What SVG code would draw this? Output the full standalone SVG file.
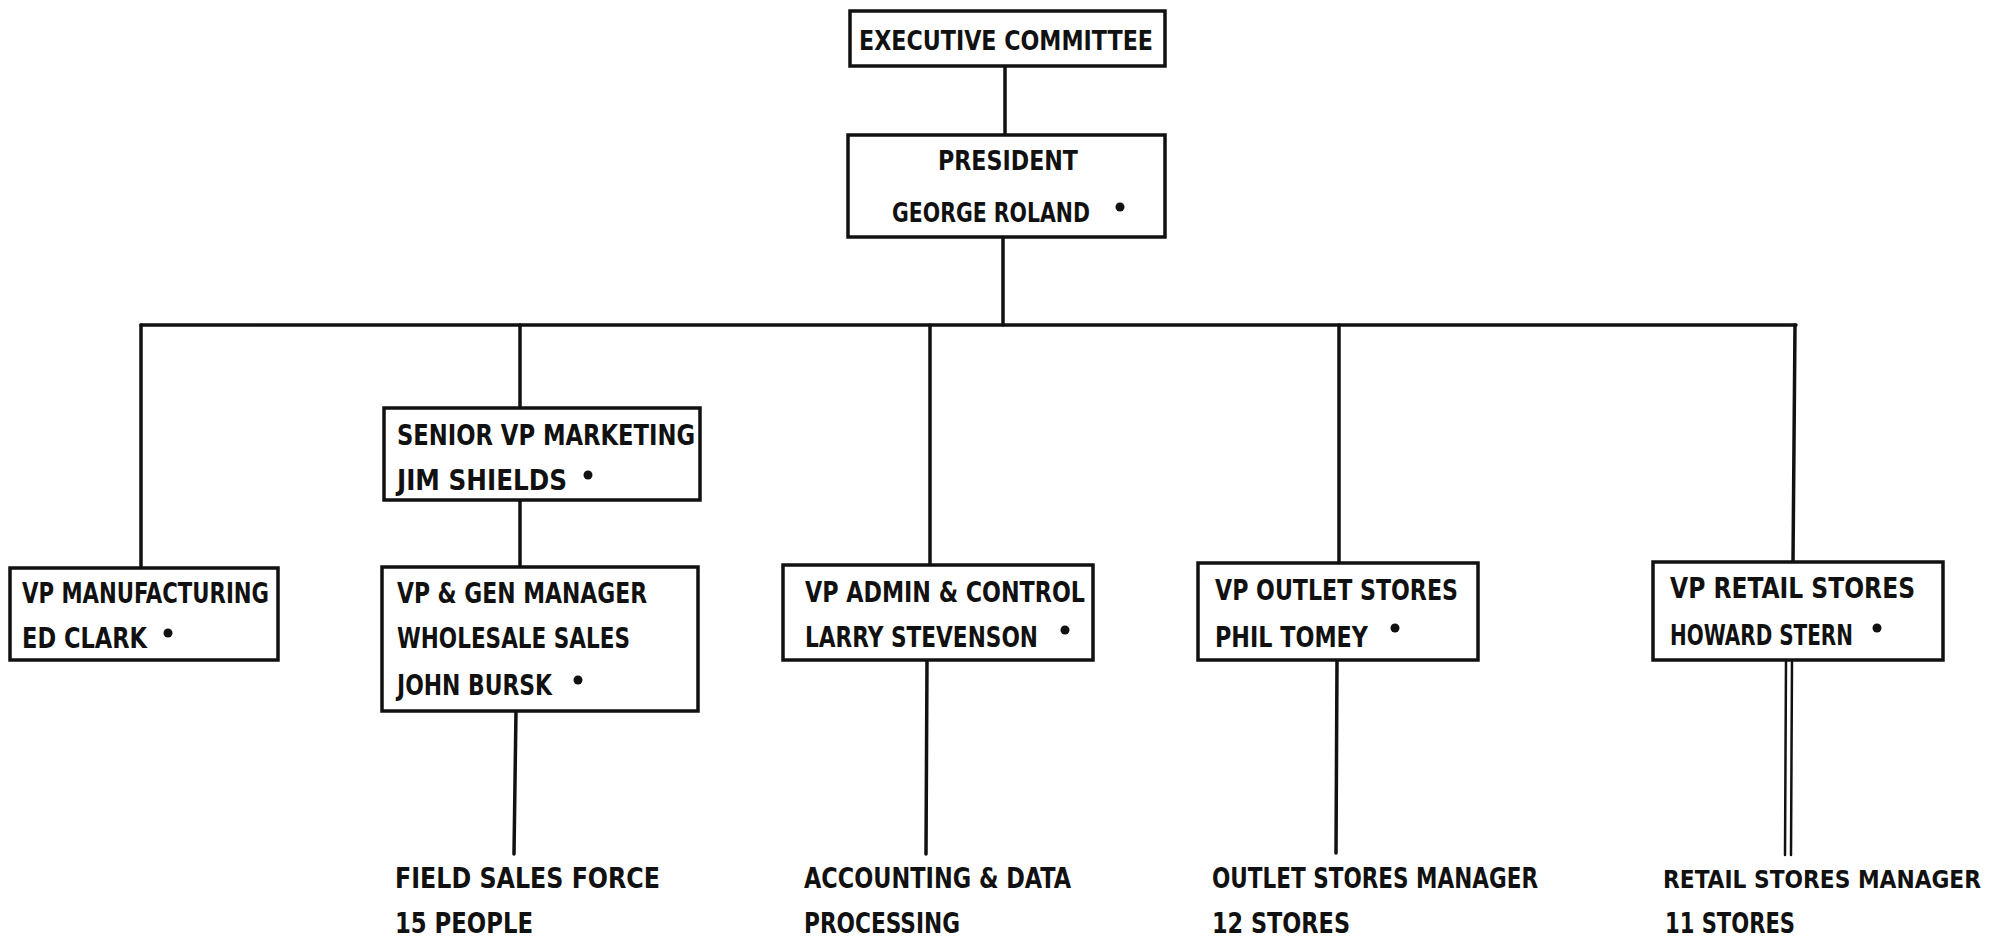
<svg xmlns="http://www.w3.org/2000/svg" width="1996" height="939" viewBox="0 0 1996 939">
<style>
.box{fill:#fff;stroke:#111;stroke-width:3.5}
.c{stroke:#111;stroke-width:3.5;fill:none;stroke-linecap:round}
.t{font-family:"DejaVu Sans Condensed","Liberation Sans Narrow","Liberation Sans",sans-serif;font-weight:bold;font-size:28px;fill:#111}
.s{font-size:26px}
.d{fill:#111}
</style>
<rect width="1996" height="939" fill="#fff"/>
<g id="connectors">
<line class="c" x1="1005" y1="66" x2="1005" y2="135"/>
<line class="c" x1="1003" y1="237" x2="1003" y2="325"/>
<line class="c" x1="141" y1="325" x2="1796" y2="325"/>
<line class="c" x1="141" y1="325" x2="141" y2="568"/>
<line class="c" x1="520" y1="325" x2="520" y2="408"/>
<line class="c" x1="930" y1="325" x2="930" y2="565"/>
<line class="c" x1="1339" y1="325" x2="1339" y2="563"/>
<line class="c" x1="1795" y1="325" x2="1793" y2="562"/>
<line class="c" x1="520" y1="500" x2="520" y2="567"/>
<line class="c" x1="516" y1="711" x2="514" y2="854"/>
<line class="c" x1="927" y1="660" x2="926" y2="854"/>
<line class="c" x1="1337" y1="660" x2="1336" y2="853"/>
<line class="c" x1="1786" y1="660" x2="1785" y2="855" style="stroke-width:2.5"/>
<line class="c" x1="1792" y1="660" x2="1791" y2="855" style="stroke-width:2.5"/>
</g>
<g id="exec">
<rect class="box" x="850" y="11" width="315" height="55"/>
<text class="t s" x="859" y="50" textLength="294" lengthAdjust="spacingAndGlyphs">EXECUTIVE COMMITTEE</text>
</g>
<g id="president">
<rect class="box" x="848" y="135" width="317" height="102"/>
<text class="t s" x="938" y="170" textLength="140" lengthAdjust="spacingAndGlyphs">PRESIDENT</text>
<text class="t s" x="892" y="222" textLength="198" lengthAdjust="spacingAndGlyphs">GEORGE ROLAND</text>
<circle class="d" cx="1120" cy="207" r="4.5"/>
</g>
<g id="vp-manufacturing">
<rect class="box" x="10" y="568" width="268" height="92"/>
<text class="t" x="22" y="603" textLength="247" lengthAdjust="spacingAndGlyphs">VP MANUFACTURING</text>
<text class="t" x="22" y="648" textLength="125" lengthAdjust="spacingAndGlyphs">ED CLARK</text>
<circle class="d" cx="168" cy="633" r="4.5"/>
</g>
<g id="senior-vp-marketing">
<rect class="box" x="384" y="408" width="316" height="92"/>
<text class="t" x="397" y="445" textLength="298" lengthAdjust="spacingAndGlyphs">SENIOR VP MARKETING</text>
<text class="t" x="397" y="490" textLength="170" lengthAdjust="spacingAndGlyphs">JIM SHIELDS</text>
<circle class="d" cx="588" cy="475" r="4.5"/>
</g>
<g id="vp-gen-manager">
<rect class="box" x="382" y="567" width="316" height="144"/>
<text class="t" x="397" y="603" textLength="250" lengthAdjust="spacingAndGlyphs">VP &amp; GEN MANAGER</text>
<text class="t" x="397" y="648" textLength="233" lengthAdjust="spacingAndGlyphs">WHOLESALE SALES</text>
<text class="t" x="397" y="695" textLength="155" lengthAdjust="spacingAndGlyphs">JOHN BURSK</text>
<circle class="d" cx="578" cy="680" r="4.5"/>
</g>
<g id="vp-admin">
<rect class="box" x="783" y="565" width="310" height="95"/>
<text class="t" x="805" y="602" textLength="280" lengthAdjust="spacingAndGlyphs">VP ADMIN &amp; CONTROL</text>
<text class="t" x="805" y="647" textLength="233" lengthAdjust="spacingAndGlyphs">LARRY STEVENSON</text>
<circle class="d" cx="1065" cy="630" r="4.5"/>
</g>
<g id="vp-outlet">
<rect class="box" x="1198" y="563" width="280" height="97"/>
<text class="t" x="1215" y="600" textLength="243" lengthAdjust="spacingAndGlyphs">VP OUTLET STORES</text>
<text class="t" x="1215" y="647" textLength="153" lengthAdjust="spacingAndGlyphs">PHIL TOMEY</text>
<circle class="d" cx="1395" cy="628" r="4.5"/>
</g>
<g id="vp-retail">
<rect class="box" x="1653" y="562" width="290" height="98"/>
<text class="t" x="1670" y="598" textLength="245" lengthAdjust="spacingAndGlyphs">VP RETAIL STORES</text>
<text class="t" x="1670" y="645" textLength="183" lengthAdjust="spacingAndGlyphs">HOWARD STERN</text>
<circle class="d" cx="1877" cy="628" r="4.5"/>
</g>
<g id="field-sales">
<text class="t" x="395" y="888" textLength="265" lengthAdjust="spacingAndGlyphs">FIELD SALES FORCE</text>
<text class="t" x="395" y="933" textLength="138" lengthAdjust="spacingAndGlyphs">15 PEOPLE</text>
</g>
<g id="accounting">
<text class="t" x="804" y="888" textLength="267" lengthAdjust="spacingAndGlyphs">ACCOUNTING &amp; DATA</text>
<text class="t" x="804" y="933" textLength="156" lengthAdjust="spacingAndGlyphs">PROCESSING</text>
</g>
<g id="outlet-manager">
<text class="t" x="1212" y="888" textLength="326" lengthAdjust="spacingAndGlyphs">OUTLET STORES MANAGER</text>
<text class="t" x="1212" y="933" textLength="138" lengthAdjust="spacingAndGlyphs">12 STORES</text>
</g>
<g id="retail-manager">
<text class="t" x="1663" y="888" textLength="318" lengthAdjust="spacingAndGlyphs" style="font-size:25px">RETAIL STORES MANAGER</text>
<text class="t" x="1665" y="933" textLength="130" lengthAdjust="spacingAndGlyphs">11 STORES</text>
</g>
</svg>
